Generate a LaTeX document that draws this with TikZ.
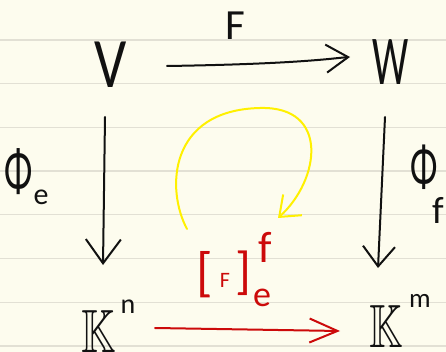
\documentclass[tikz,border=0pt]{standalone}
\usepackage{amssymb}
\usepackage{fontspec}
\setmainfont{Carlito}
\usetikzlibrary{arrows.meta}
\definecolor{paper}{HTML}{FDFCEE}
\definecolor{paperline}{HTML}{E2E0D4}
\definecolor{ink}{HTML}{111111}
\definecolor{redink}{HTML}{CC0A0A}
\definecolor{yelink}{HTML}{FFF000}
\begin{document}
\begin{tikzpicture}[x=1pt,y=-1pt,
  glyph/.style={inner sep=0pt, outer sep=0pt, anchor=center},
  arr/.style={line width=2pt, line cap=round, line join=round}]
\fill[paper] (0,0) rectangle (446,352);
\useasboundingbox (0,0) rectangle (446,352);
\foreach \y in {40,83.7,127.4,171.1,214.8,258.5,302.2,345.9}
  \draw[paperline, line width=1.2pt] (0,\y) -- (446,\y);

% black nodes
\node[glyph, ink, font=\fontsize{43}{43}\selectfont] (F) at (235,26) {F};
\node[glyph, ink, font=\fontsize{71}{71}\selectfont, xscale=0.8] (V) at (111,65) {V};
\node[glyph, ink, font=\fontsize{70}{70}\selectfont, xscale=0.58] (W) at (391,62) {W};
\node[glyph, ink, font=\fontsize{62}{62}\selectfont, xscale=0.6] (Pe) at (19,172) {Φ};
\node[glyph, ink, font=\fontsize{30}{30}\selectfont] (pe) at (41,197) {e};
\node[glyph, ink, font=\fontsize{60}{60}\selectfont, xscale=0.6] (Pf) at (424,167) {Φ};
\node[glyph, ink, font=\fontsize{38}{38}\selectfont] (pf) at (438,210) {f};
\node[glyph, ink, font=\fontsize{61}{61}\selectfont, xscale=0.72] (Kl) at (99,331) {$\mathbb{K}$};
\node[glyph, ink, font=\fontsize{28}{28}\selectfont] (nl) at (128,307) {n};
\node[glyph, ink, font=\fontsize{61}{61}\selectfont, xscale=0.7] (Kr) at (386,326) {$\mathbb{K}$};
\node[glyph, ink, font=\fontsize{27}{27}\selectfont] (mr) at (420,301) {m};

% red matrix label
\node[glyph, redink, font=\fontsize{54}{54}\selectfont] (lb) at (205,275) {[};
\node[glyph, redink, font=\fontsize{22}{22}\selectfont] (mF) at (225,280) {F};
\node[glyph, redink, font=\fontsize{52}{52}\selectfont] (rb) at (243,273) {]};
\node[glyph, redink, font=\fontsize{44}{44}\selectfont] (mf) at (265,247) {f};
\node[glyph, redink, font=\fontsize{36}{36}\selectfont] (me) at (262,298) {e};

% connector ends
\coordinate (t1) at (167,66);
\coordinate (t2) at (350,57);
\coordinate (l1) at (105,117);
\coordinate (l2) at (103,265);
\coordinate (r1) at (385,117);
\coordinate (r2) at (378,268);
\coordinate (b1) at (155,328);
\coordinate (b2) at (340,331);
\coordinate (ys) at (187,229);
\coordinate (ye) at (278,218);

\draw[ink, arr, -{Straight Barb[length=22pt,width=28pt]}] (t1) .. controls (300,64) and (335,58) .. (t2);
\draw[ink, arr, -{Straight Barb[length=24pt,width=35pt]}] (l1) -- (l2);
\draw[ink, arr, -{Straight Barb[length=20pt,width=32pt]}] (r1) -- (r2);
\draw[redink, arr, -{Straight Barb[length=28pt,width=24pt]}] (b1) -- (b2);
\draw[yelink, arr, -{Straight Barb[length=18pt,width=28pt]}] (ys) .. controls (166,190) and (168,110) .. (260,108) .. controls (330,106) and (320,180) .. (ye);
\end{tikzpicture}
\end{document}
